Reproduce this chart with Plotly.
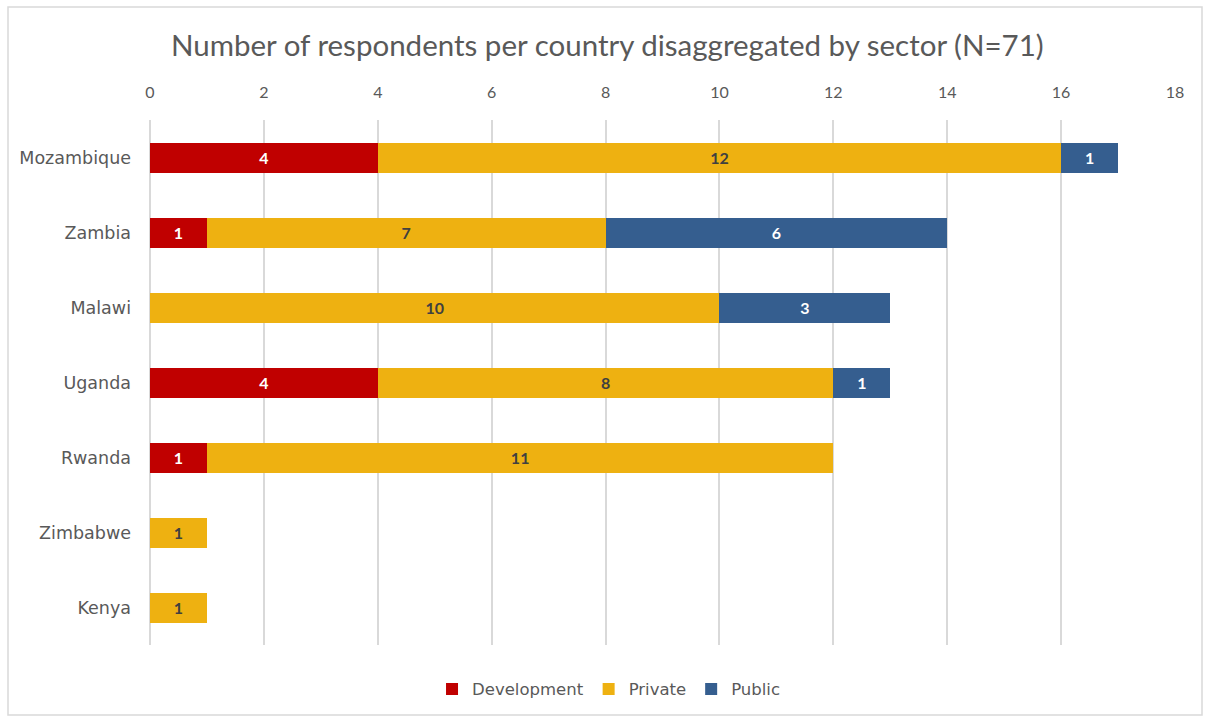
import plotly.graph_objects as go

countries = ["Mozambique", "Zambia", "Malawi", "Uganda", "Rwanda", "Zimbabwe", "Kenya"]
development = [4, 1, 0, 4, 1, 0, 0]
private = [12, 7, 10, 8, 11, 1, 1]
public = [1, 6, 3, 1, 0, 0, 0]
x_ticks = [0, 2, 4, 6, 8, 10, 12, 14, 16, 18]

series = [
    ("Development", development, "#C00000", "white"),
    ("Private", private, "#EEB111", "#404040"),
    ("Public", public, "#355E8F", "white"),
]

fig = go.Figure()
for name, vals, color, tcolor in series:
    fig.add_trace(go.Bar(
        name=name,
        y=countries,
        x=[v if v else None for v in vals],
        orientation="h",
        marker=dict(color=color, line=dict(width=0)),
        text=[str(v) if v else "" for v in vals],
        textposition="inside",
        insidetextanchor="middle",
        textangle=0,
        textfont=dict(color=tcolor, size=16, family="Lato", weight="bold"),
        width=0.4,
    ))

fig.update_layout(
    barmode="stack",
    width=1205, height=718,
    paper_bgcolor="white", plot_bgcolor="white",
    margin=dict(l=150, r=30, t=120, b=73),
    font=dict(family="Lato", color="#595959", size=14),
    title=dict(text="Number of respondents per country disaggregated by sector (N=71)",
               x=0.504, xanchor="center", y=0.937, yanchor="middle",
               font=dict(size=29.5, color="#595959", family="Lato")),
    xaxis=dict(side="top", range=[0, 18], tickvals=x_ticks, showgrid=True,
               gridcolor="#D9D9D9", gridwidth=1.5, zeroline=True, zerolinecolor="#D9D9D9",
               zerolinewidth=1.5, showline=False,
               tickfont=dict(size=16, color="#595959", family="Lato"), ticks="", ticklabelstandoff=18),
    yaxis=dict(categoryorder="array", categoryarray=countries[::-1], showgrid=False,
               zeroline=False, showline=False, ticks="", ticklabelstandoff=18,
               tickfont=dict(size=17.5, color="#595959", family="DejaVu Sans")),
    legend=dict(orientation="h", xref="container", yref="container", x=0.505, xanchor="center",
                y=0.04, yanchor="middle", font=dict(size=16.5, color="#595959", family="DejaVu Sans"),
                traceorder="normal", itemwidth=30),
    uniformtext=dict(mode=False),
    shapes=[dict(type="rect", xref="paper", yref="paper",
                 x0=-142/1025, x1=(1202-150)/1025, y0=-70/525, y1=(645-7)/525,
                 line=dict(color="#D9D9D9", width=1.5), fillcolor="rgba(0,0,0,0)", layer="below")],
)

fig.write_html("out.html")
